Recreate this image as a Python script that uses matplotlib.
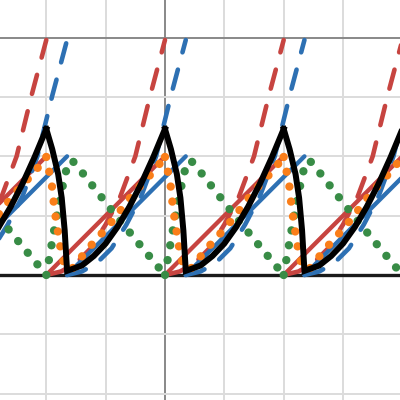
import numpy as np
import matplotlib.pyplot as plt

# one cycle of each curve (period 2)
period_offsets = [-4, -2, 0, 2]

black_x = [0.0, 0.10, 0.20, 0.26, 0.31, 0.35, 0.60, 0.80, 1.00, 1.20, 1.40, 1.60, 1.80, 2.00]
black_y = [2.46, 2.12, 1.70, 1.30, 0.75, 0.07, 0.16, 0.32, 0.53, 0.81, 1.15, 1.54, 1.98, 2.46]

orange_x = [0.0, 0.05, 0.10, 0.13, 0.17, 0.25, 0.31, 0.40, 0.48, 0.62, 0.79, 0.96, 1.13, 1.32, 1.47, 1.64, 1.85, 2.0]
orange_y = [1.99, 1.74, 1.47, 1.18, 0.89, 0.39, 0.14, 0.09, 0.14, 0.34, 0.54, 0.73, 0.93, 1.18, 1.38, 1.56, 1.80, 1.99]

green_x = [0.0, 0.14, 0.30, 0.36, 0.41, 0.47, 1.15, 1.65, 2.0]
green_y = [0.0, 0.80, 1.62, 1.86, 1.93, 1.90, 1.03, 0.42, 0.0]

red_x = [0.0, 2.0]
red_y = [0.0, 2.0]

red_dash_x = [0.0, 0.25, 0.5, 0.75, 1.0, 1.25, 1.5, 1.75, 2.0]
red_dash_y = [0.0, 0.06, 0.20, 0.45, 0.85, 1.33, 2.0, 3.02, 3.96]

blue_shift = 0.35

RED = "#c74440"
BLUE = "#2d70b3"
GREEN = "#388c46"
ORANGE = "#fa7e19"

fig = plt.figure(figsize=(4, 4), dpi=100)
ax = fig.add_axes([0, 0, 1, 1])
ax.set_xlim(-2.78, 3.96)
ax.set_ylim(-2.106, 4.634)
ax.axis("off")

# grid
for gx in range(-2, 4):
    ax.axvline(gx, color="#888888" if gx == 0 else "#dcdcdc", lw=1.4, zorder=0)
for gy in range(-2, 5):
    ax.axhline(gy, color="#888888" if gy == 4 else "#dcdcdc", lw=1.4, zorder=0)

ax.axhline(0, color="#1a1a1a", lw=2.4, zorder=1)

dash = (0, (4.3, 3.9))
dot = (0, (0.01, 1.8))

for off in period_offsets:
    bx = np.array(red_x) + off + blue_shift
    ax.plot(np.array(red_x) + off, red_y, color=RED, lw=3.1, solid_capstyle="round", zorder=2)
    ax.plot(np.array(red_dash_x) + off, red_dash_y, color=RED, lw=3.3, ls=dash,
            dash_capstyle="round", zorder=2)
    ax.plot(bx, red_y, color=BLUE, lw=3.1, solid_capstyle="round", zorder=3)
    ax.plot(np.array(red_dash_x) + off + blue_shift, red_dash_y, color=BLUE, lw=3.3, ls=dash,
            dash_capstyle="round", zorder=3)
    ax.plot(np.array(green_x) + off, green_y, color=GREEN, lw=6.0, ls=dot,
            dash_capstyle="round", zorder=4)
    ax.plot(np.array(orange_x) + off, orange_y, color=ORANGE, lw=6.0, ls=dot,
            dash_capstyle="round", zorder=5)
    ax.plot(np.array(black_x) + off, black_y, color="black", lw=4.3,
            solid_joinstyle="miter", zorder=6)

fig.savefig("out.png", dpi=100)
